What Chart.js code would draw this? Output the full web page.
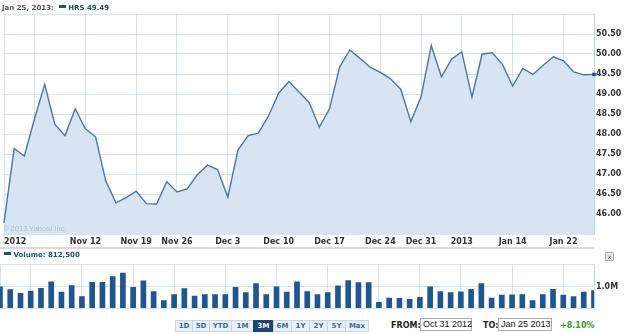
<!DOCTYPE html>
<html>
<head>
<meta charset="utf-8">
<script src="https://cdn.jsdelivr.net/npm/chart.js@4.4.0/dist/chart.umd.min.js"></script>
<style>
  body { margin: 0; background: #fff; font-family: "DejaVu Sans", Verdana, sans-serif; }
  #wrap { position: relative; width: 625px; height: 334px; overflow: hidden; }
  canvas { position: absolute; left: 0; }
  .abs { position: absolute; white-space: nowrap; }
  .mark { display: inline-block; width: 7px; height: 3px; background: #1d4f86; vertical-align: 2px; }
  #head { left: 2px; top: 2px; font-weight: bold; font-size: 7px; color: #555; line-height: 12px; }
  #head .blue, #vleg { color: #1d4f86; }
  #copy { left: 3px; top: 224px; font-family: "Liberation Sans", Arial, sans-serif; font-size: 7.5px; color: #a9bfd4; }
  #sep { left: 0; top: 247px; width: 594px; height: 2px; background: #dadada; }
  #vleg { left: 4px; top: 249px; font-weight: bold; font-size: 7px; line-height: 12px; }
  #close { left: 605px; top: 252px; width: 7px; height: 7px; border: 1px solid #aaa; background: #e6e6e6;
           font-size: 6px; line-height: 7px; text-align: center; color: #555; border-radius: 1px; }
  #btns { left: 175px; top: 320px; display: flex; height: 12px; }
  #btns span { box-sizing: border-box; height: 12px; border: 1px solid #c8d5e2; margin-right: -1px; background: #ebf0f6;
               font-weight: bold; font-size: 7px; line-height: 10px; text-align: center; color: #3c6aa0; }
  #btns span.on { background: #1d4772; color: #fff; border-color: #1d4772; }
  .lbl { top: 320px; font-weight: bold; font-size: 8px; line-height: 12px; color: #222; }
  .box { top: 318px; height: 13px; box-sizing: border-box; border: 1px solid #aaa; background: #fff;
         font-family: "Liberation Sans", Arial, sans-serif; font-size: 9px; line-height: 11px; padding-left: 2px; color: #111; }
  #chg { left: 560px; top: 320px; font-weight: bold; font-size: 8px; line-height: 12px; color: #2f9a2f; }
</style>
</head>
<body>
<div id="wrap">
  <canvas id="price" width="625" height="250" style="top:0"></canvas>
  <canvas id="vol" width="625" height="57" style="top:258px"></canvas>
  <div class="abs" id="head">Jan 25, 2013: &nbsp;<span class="mark"></span> <span class="blue">HRS 49.49</span></div>
  <div class="abs" id="copy">© 2013 Yahoo! Inc.</div>
  <div class="abs" id="sep"></div>
  <div class="abs" id="vleg"><span class="mark"></span> Volume: 812,500</div>
  <div class="abs" id="close">x</div>
  <div class="abs" id="btns"></div>
  <div class="abs lbl" style="left:391px">FROM:</div>
  <div class="abs box" style="left:420px;width:52px">Oct 31 2012</div>
  <div class="abs lbl" style="left:483px">TO:</div>
  <div class="abs box" style="left:498px;width:54px">Jan 25 2013</div>
  <div class="abs" id="chg">+8.10%</div>
</div>
<script>
// trading days, Oct 31 2012 - Jan 25 2013
const dates = [
  'Oct 31',
  'Nov 1', 'Nov 2', 'Nov 5', 'Nov 6', 'Nov 7', 'Nov 8', 'Nov 9', 'Nov 12', 'Nov 13', 'Nov 14', 'Nov 15', 'Nov 16',
  'Nov 19', 'Nov 20', 'Nov 21', 'Nov 23', 'Nov 26', 'Nov 27', 'Nov 28', 'Nov 29', 'Nov 30',
  'Dec 3', 'Dec 4', 'Dec 5', 'Dec 6', 'Dec 7', 'Dec 10', 'Dec 11', 'Dec 12', 'Dec 13', 'Dec 14',
  'Dec 17', 'Dec 18', 'Dec 19', 'Dec 20', 'Dec 21', 'Dec 24', 'Dec 26', 'Dec 27', 'Dec 28', 'Dec 31',
  'Jan 2', 'Jan 3', 'Jan 4', 'Jan 7', 'Jan 8', 'Jan 9', 'Jan 10', 'Jan 11', 'Jan 14', 'Jan 15', 'Jan 16',
  'Jan 17', 'Jan 18', 'Jan 22', 'Jan 23', 'Jan 24', 'Jan 25'
];

const prices = [
  45.78, 47.64, 47.45, 48.38, 49.24, 48.24, 47.96, 48.63, 48.13, 47.93, 46.83, 46.28, 46.41,
  46.57, 46.26, 46.25, 46.81, 46.55, 46.63, 46.98, 47.22, 47.11,
  46.42, 47.60, 47.96, 48.02, 48.45, 49.02, 49.31, 49.05, 48.79, 48.17,
  48.63, 49.68, 50.10, 49.89, 49.67, 49.54, 49.38, 49.12, 48.31, 48.93,
  50.21, 49.43, 49.87, 50.06, 48.92, 50.00, 50.03, 49.74, 49.20, 49.64, 49.49,
  49.72, 49.93, 49.83, 49.55, 49.48, 49.49
];

const volume = [
  990000, 860000, 680000, 790000, 920000, 1220000, 740000, 1040000, 540000, 1190000, 1190000, 1460000, 1620000,
  960000, 1260000, 770000, 350000, 630000, 900000, 560000, 630000, 630000,
  630000, 960000, 720000, 1140000, 630000, 990000, 740000, 1220000, 770000, 630000,
  720000, 1030000, 1270000, 1180000, 1180000, 270000, 470000, 450000, 410000, 500000,
  990000, 770000, 720000, 760000, 870000, 1140000, 470000, 600000, 620000, 630000, 350000,
  630000, 870000, 600000, 540000, 740000, 812500
];

// x gridlines and their labels
const tickDates = ['Oct 31', 'Nov 5', 'Nov 12', 'Nov 19', 'Nov 26', 'Dec 3', 'Dec 10', 'Dec 17', 'Dec 24', 'Dec 31', 'Jan 7', 'Jan 14', 'Jan 22', 'Jan 25'];
const tickLabels = ['2012', '', 'Nov 12', 'Nov 19', 'Nov 26', 'Dec 3', 'Dec 10', 'Dec 17', 'Dec 24', 'Dec 31', '2013', 'Jan 14', 'Jan 22', ''];
const rangeButtons = ['1D', '5D', 'YTD', '1M', '3M', '6M', '1Y', '2Y', '5Y', 'Max'];

const btnWidths = [18, 18, 23, 23, 21, 19, 19, 19, 19, 24];
const btns = document.getElementById('btns');
rangeButtons.forEach((b, i) => {
  const s = document.createElement('span');
  s.textContent = b;
  s.style.width = btnWidths[i] + 'px';
  if (b === '3M') s.className = 'on';
  btns.appendChild(s);
});

const tickIdx = tickDates.map(d => dates.indexOf(d));
const gridCol = 'rgba(150,182,210,0.38)';
const tickFont = { family: 'DejaVu Sans', size: 8, weight: 'bold' };
const tickCol = '#333';

function keepTicks(scale) {
  scale.ticks = scale.ticks.filter(t => tickIdx.includes(t.value));
}

new Chart(document.getElementById('price'), {
  type: 'line',
  data: {
    labels: dates,
    datasets: [{
      data: prices,
      borderColor: '#4876ab',
      borderWidth: 1.4,
      backgroundColor: '#d6e5f1',
      fill: 'start',
      tension: 0,
      clip: 4,
      pointStyle: 'rect',
      pointRadius: ctx => ctx.dataIndex === prices.length - 1 ? 2.5 : 0,
      pointBackgroundColor: '#1d4f86',
      pointBorderWidth: 0
    }]
  },
  options: {
    responsive: false,
    animation: false,
    layout: { padding: { top: 14 } },
    plugins: { legend: { display: false }, tooltip: { enabled: false } },
    scales: {
      x: {
        offset: false,
        grid: { color: gridCol, drawTicks: false, offset: false },
        border: { display: false },
        afterBuildTicks: keepTicks,
        afterFit: s => { s.height = 16; },
        ticks: {
          autoSkip: false, maxRotation: 0, align: 'inner', padding: 3,
          font: tickFont, color: tickCol,
          callback: v => tickLabels[tickIdx.indexOf(v)]
        }
      },
      y: {
        position: 'right',
        min: 45.5,
        max: 51,
        grid: { color: gridCol, drawTicks: false },
        border: { color: gridCol },
        afterFit: s => { s.width = 31; },
        ticks: {
          stepSize: 0.5, padding: 2, font: tickFont, color: tickCol,
          callback: v => (v >= 46 && v <= 50.5) ? v.toFixed(2) : ''
        }
      }
    }
  }
});

new Chart(document.getElementById('vol'), {
  type: 'bar',
  data: {
    labels: dates,
    datasets: [{ data: volume, backgroundColor: '#1f5691', barThickness: 5 }]
  },
  options: {
    responsive: false,
    animation: false,
    layout: { padding: { top: 4 } },
    plugins: { legend: { display: false }, tooltip: { enabled: false } },
    scales: {
      x: {
        offset: false,
        grid: { color: gridCol, drawTicks: false, offset: false },
        border: { display: false },
        ticks: { display: false },
        afterBuildTicks: keepTicks,
        afterFit: s => { s.height = 0; }
      },
      y: {
        position: 'right',
        min: 0,
        max: 2000000,
        grid: { color: gridCol, drawTicks: false },
        border: { color: gridCol },
        afterFit: s => { s.width = 31; },
        ticks: {
          stepSize: 1000000, padding: 2, font: tickFont, color: tickCol,
          callback: v => v === 1000000 ? '1.0M' : ''
        }
      }
    }
  }
});
</script>
</body>
</html>
